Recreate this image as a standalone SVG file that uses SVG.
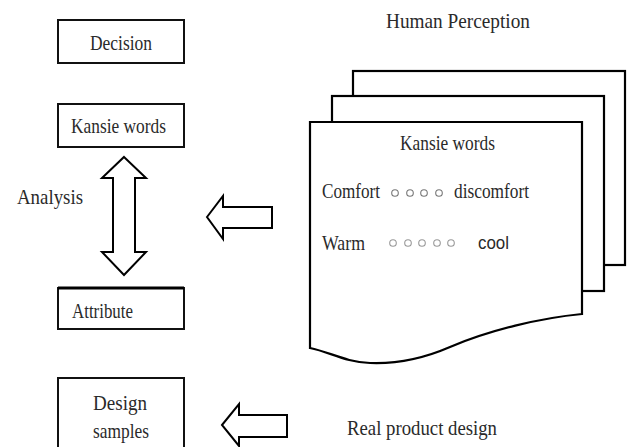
<svg xmlns="http://www.w3.org/2000/svg" width="628" height="447" viewBox="0 0 628 447">
<style>
.box{fill:#fff;stroke:#111;stroke-width:2}
.page{fill:#fff;stroke:#000;stroke-width:2.2;stroke-linejoin:miter}
.arr{fill:#fff;stroke:#000;stroke-width:2;stroke-linejoin:miter}
.t{font-family:"Liberation Serif","Times New Roman",serif;font-size:22px;fill:#2a2a2a}
.s{font-family:"Liberation Sans",Arial,sans-serif;font-size:19px;fill:#2a2a2a}
.c1{fill:none;stroke:#777;stroke-width:1.1}
.c2{fill:none;stroke:#999;stroke-width:1.1}
</style>
<rect width="628" height="447" fill="#fff"/>
<g id="decision"><rect class="box" x="58" y="20" width="126" height="43"/><text class="t" x="90" y="50" textLength="62" lengthAdjust="spacingAndGlyphs">Decision</text></g>
<g id="kansie-words"><rect class="box" x="58" y="104" width="126" height="43"/><text class="t" x="71" y="133" textLength="95" lengthAdjust="spacingAndGlyphs">Kansie words</text></g>
<g id="attribute"><rect class="box" x="58" y="288" width="126" height="41"/><line x1="58" y1="288" x2="184" y2="288" stroke="#000" stroke-width="3"/><text class="t" x="72" y="318" textLength="61" lengthAdjust="spacingAndGlyphs">Attribute</text></g>
<g id="design-samples"><rect class="box" x="58" y="378" width="126" height="80"/><text class="t" x="93" y="410" textLength="54" lengthAdjust="spacingAndGlyphs">Design</text><text class="t" x="93" y="438" textLength="56" lengthAdjust="spacingAndGlyphs">samples</text></g>
<g id="human-perception">
<text class="t" x="386" y="28" textLength="144" lengthAdjust="spacingAndGlyphs">Human Perception</text>
<rect class="page" x="353" y="71" width="272" height="194"/>
<rect class="page" x="332" y="96" width="272" height="195"/>
<path class="page" d="M310,122 H582 V314 C540,318 490,330 450,347 C420,360 395,364 370,363 C345,362 330,352 310,348 Z"/>
<text class="t" x="400" y="150" textLength="95" lengthAdjust="spacingAndGlyphs">Kansie words</text>
<text class="t" x="322" y="198" textLength="58" lengthAdjust="spacingAndGlyphs">Comfort</text>
<circle class="c1" cx="395" cy="193" r="3.3"/><circle class="c1" cx="410" cy="193" r="3.3"/><circle class="c1" cx="424" cy="193" r="3.3"/><circle class="c1" cx="439" cy="193" r="3.3"/>
<text class="t" x="454" y="198" textLength="75" lengthAdjust="spacingAndGlyphs">discomfort</text>
<text class="t" x="322" y="250" textLength="43" lengthAdjust="spacingAndGlyphs">Warm</text>
<circle class="c2" cx="393" cy="243" r="3.3"/><circle class="c2" cx="408" cy="243" r="3.3"/><circle class="c2" cx="422" cy="243" r="3.3"/><circle class="c2" cx="437" cy="243" r="3.3"/><circle class="c2" cx="451" cy="243" r="3.3"/>
<text class="s" x="478" y="249" textLength="31" lengthAdjust="spacingAndGlyphs">cool</text>
</g>
<g id="connectors">
<polygon class="arr" points="124,157 146,178 135,178 135,252 146,252 124,275 102,252 113,252 113,178 102,178"/>
<polygon class="arr" points="207,217 223,196 223,207 272,207 272,228 223,228 223,239"/>
<polygon class="arr" points="222,425 239,404 239,415 287,415 287,437 239,437 239,446"/>
</g>
<text class="t" x="17" y="204" textLength="66" lengthAdjust="spacingAndGlyphs">Analysis</text>
<text class="t" x="347" y="435" textLength="150" lengthAdjust="spacingAndGlyphs">Real product design</text>
</svg>
